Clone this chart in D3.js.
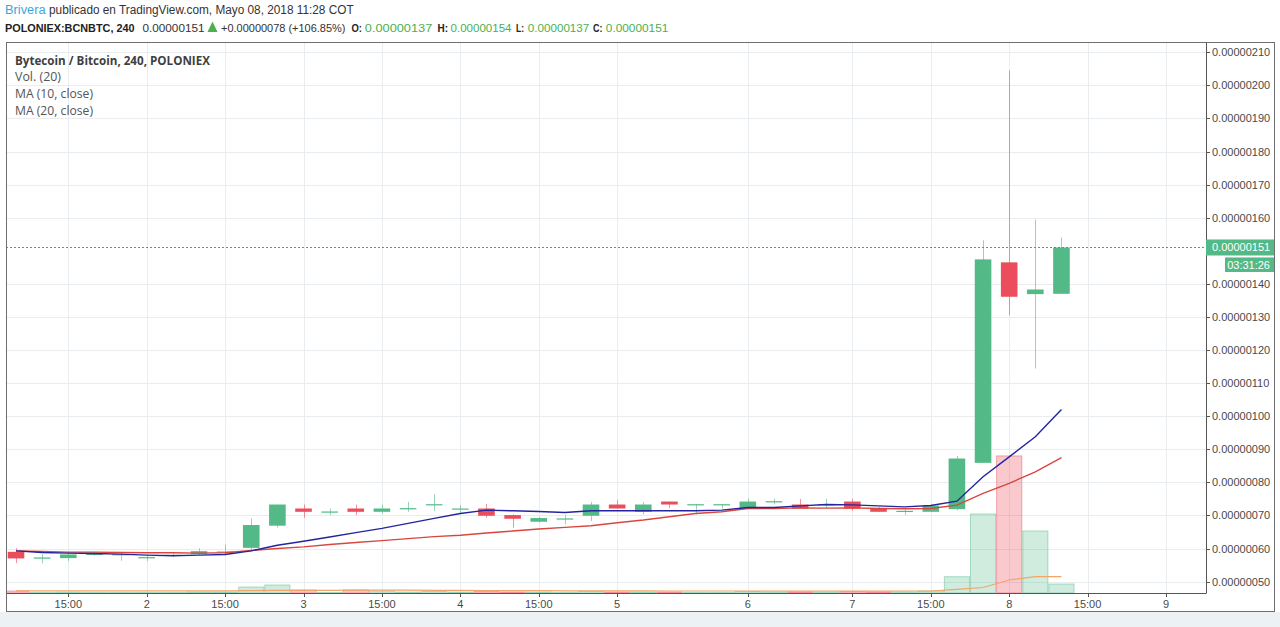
<!DOCTYPE html>
<html><head><meta charset="utf-8">
<script src="https://cdn.jsdelivr.net/npm/d3@7/dist/d3.min.js"></script>
<style>body{margin:0;background:#fff}svg{display:block}</style>
</head><body>
<script>
// ---- data (prices in satoshi = 1e-8 BTC) ----
const open  = [59.0,57.2,57.1,58.2,58.3,57.3,58.0,58.3,59.0,60.2,66.9,72.1,71.1,72.1,71.1,72.1,73.3,72.0,72.1,70.1,68.1,69.0,69.9,73.3,71.1,74.2,73.3,73.3,72.1,74.2,73.3,73.3,74.2,72.1,71.3,71.1,71.9,85.9,146.5,136.9,137.0];
const high  = [60.1,58.3,59.0,58.9,59.0,58.0,58.6,60.1,61.2,69.1,73.3,73.3,72.1,73.3,73.3,74.1,76.4,73.1,73.4,70.3,69.6,70.1,74.1,74.6,74.1,74.2,73.5,73.5,75.1,75.1,75.0,75.0,75.0,72.6,72.1,73.5,88.0,153.2,204.5,159.5,154.0];
const low   = [55.6,55.5,56.2,57.8,56.3,56.2,57.5,58.0,58.0,59.5,66.3,69.3,70.1,70.1,70.6,71.1,71.3,70.6,69.3,66.3,67.8,67.3,68.3,72.1,70.3,72.2,70.3,72.1,72.1,73.3,72.1,72.1,71.4,71.1,70.1,71.1,71.5,85.9,130.5,114.4,137.0];
const close = [57.0,57.3,58.2,58.4,58.3,57.4,58.1,59.2,59.1,67.1,73.3,71.1,71.2,71.1,72.1,72.2,73.4,72.1,69.9,69.0,69.2,69.1,73.3,72.1,73.3,73.3,73.4,73.4,74.2,74.3,72.1,73.4,72.1,71.1,71.4,73.0,87.2,147.4,136.1,138.3,151.0];
const volume = [0.2,0.05,0.08,0.05,0.05,0.05,0.05,0.1,0.1,0.6,0.8,0.3,0.05,0.3,0.2,0.1,0.15,0.1,0.15,0.1,0.1,0.05,0.15,0.1,0.1,0.1,0.05,0.05,0.15,0.05,0.1,0.05,0.15,0.1,0.05,0.2,1.63,7.9,13.7,6.2,0.9];
const volMa = [0.22,0.22,0.22,0.22,0.22,0.22,0.22,0.22,0.22,0.24,0.26,0.27,0.27,0.28,0.28,0.28,0.27,0.26,0.25,0.24,0.23,0.22,0.22,0.21,0.21,0.2,0.2,0.2,0.2,0.19,0.19,0.19,0.19,0.19,0.19,0.2,0.37,0.55,1.3,1.63,1.63];
const ma10 = [59.3,58.8,58.6,58.5,58.3,58.0,57.8,58.0,58.2,59.3,61.0,62.2,63.5,64.8,66.1,67.6,69.1,70.6,71.6,71.4,71.2,70.9,71.4,71.4,71.4,71.4,71.4,71.6,72.4,72.4,72.9,73.3,73.2,72.9,72.6,73.0,74.3,81.7,87.7,93.8,102.0];
const ma20 = [59.3,59.1,58.9,58.9,58.8,58.7,58.7,58.6,58.7,59.4,60.0,60.5,61.2,61.8,62.4,63.0,63.6,64.0,64.7,65.3,65.9,66.4,66.9,67.8,68.6,69.6,70.6,71.1,72.1,72.1,72.3,72.2,72.3,72.1,72.0,72.1,73.1,76.7,79.7,83.2,87.5];
// the 150 tick is hidden under the last-price label in the reference
const priceTicks = [50,60,70,80,90,100,110,120,130,140,160,170,180,190,200,210];
const timeTickIndex = [2,5,8,11,14,17,20,23,28,32,35,38,41,44];
const timeTickLabels = ["15:00","2","15:00","3","15:00","4","15:00","5","6","7","15:00","8","15:00","9"];
const lastPrice = 151;
const countdown = "03:31:26";

// ---- layout ----
const W = 1280, H = 627;
const L = 6, R = 1206, T = 42, B = 593;
const GREEN = "#53b987", RED = "#eb4d5c";
const svg = d3.select("body").append("svg").attr("width", W).attr("height", H);
const fmt = v => (v/1e8).toFixed(8);

const x = d3.scaleLinear().domain([-0.383, 45.53]).range([L, R]);
const y = d3.scaleLinear().domain([50, 210]).range([581.6, 52.3]);
const vy = d3.scaleLinear().domain([0, d3.max(volume) * 4.02]).range([B, T]);
const step = x(1) - x(0);

// bottom strip
svg.append("rect").attr("x",0).attr("y",612).attr("width",W).attr("height",H-612).attr("fill","#eef1f4");

// clip
svg.append("defs").append("clipPath").attr("id","plot").append("rect")
  .attr("x",L).attr("y",T).attr("width",R-L).attr("height",B-T);

// grid
const grid = svg.append("g").attr("stroke","#e9edf0").attr("stroke-width",1);
grid.selectAll("line.h").data(priceTicks).join("line").attr("class","h")
  .attr("x1",L).attr("x2",R).attr("y1",d=>Math.round(y(d))+0.5).attr("y2",d=>Math.round(y(d))+0.5);
grid.selectAll("line.v").data(timeTickIndex).join("line").attr("class","v")
  .attr("y1",T).attr("y2",B).attr("x1",d=>Math.round(x(d))+0.5).attr("x2",d=>Math.round(x(d))+0.5);

const plot = svg.append("g").attr("clip-path","url(#plot)");
const idx = d3.range(open.length);
const up = i => close[i] >= open[i];

// volume bars
plot.append("g").selectAll("rect").data(idx).join("rect")
  .attr("x", i => x(i) - step/2 + 0.5)
  .attr("width", step - 1)
  .attr("y", i => vy(volume[i]))
  .attr("height", i => B - vy(volume[i]))
  .attr("fill", i => up(i) ? "rgba(83,185,135,0.28)" : "rgba(235,77,92,0.30)")
  .attr("stroke", i => up(i) ? "rgba(83,185,135,0.45)" : "rgba(235,77,92,0.45)")
  .attr("stroke-width", 1);

// volume MA
plot.append("path").datum(idx)
  .attr("d", d3.line().x(i=>x(i)).y(i=>vy(volMa[i])))
  .attr("fill","none").attr("stroke","#f2a46a").attr("stroke-width",1.2);

// wicks
plot.append("g").selectAll("line").data(idx).join("line")
  .attr("x1", i => Math.round(x(i))+0.5).attr("x2", i => Math.round(x(i))+0.5)
  .attr("y1", i => y(high[i])).attr("y2", i => y(low[i]))
  .attr("stroke", i => up(i) ? GREEN : RED).attr("stroke-opacity",0.6).attr("stroke-width",1);

// bodies
const bw = 16.6;
plot.append("g").selectAll("rect").data(idx).join("rect")
  .attr("x", i => x(i) - bw/2)
  .attr("width", bw)
  .attr("y", i => y(Math.max(open[i], close[i])))
  .attr("height", i => Math.max(1.2, Math.abs(y(open[i]) - y(close[i]))))
  .attr("fill", i => up(i) ? GREEN : RED);

// MA lines
plot.append("path").datum(idx)
  .attr("d", d3.line().x(i=>x(i)).y(i=>y(ma20[i])))
  .attr("fill","none").attr("stroke","#d9463d").attr("stroke-width",1.4);
plot.append("path").datum(idx)
  .attr("d", d3.line().x(i=>x(i)).y(i=>y(ma10[i])))
  .attr("fill","none").attr("stroke","#24249e").attr("stroke-width",1.4);

// last price dotted line
svg.append("line").attr("x1",L).attr("x2",R)
  .attr("y1",Math.round(y(lastPrice))+0.5).attr("y2",Math.round(y(lastPrice))+0.5)
  .attr("stroke","#3aa87a").attr("stroke-width",1).attr("stroke-dasharray","2,2");

// axes lines
svg.append("line").attr("x1",L).attr("x2",R).attr("y1",B+0.5).attr("y2",B+0.5).attr("stroke","#555");
svg.append("line").attr("x1",R+0.5).attr("x2",R+0.5).attr("y1",T).attr("y2",B+0.5).attr("stroke","#555");
// frame
svg.append("rect").attr("x",L+0.5).attr("y",T+0.5).attr("width",1274-L).attr("height",611-T)
  .attr("fill","none").attr("stroke","#6f6f6f");

// time axis
const tg = svg.append("g");
tg.selectAll("line").data(timeTickIndex).join("line")
  .attr("x1",d=>Math.round(x(d))+0.5).attr("x2",d=>Math.round(x(d))+0.5)
  .attr("y1",B).attr("y2",B+4).attr("stroke","#555");
tg.selectAll("text").data(timeTickIndex).join("text")
  .attr("x",d=>x(d)).attr("y",608).attr("text-anchor","middle")
  .attr("font-family","Liberation Sans, Arial, sans-serif").attr("font-size",11).attr("fill","#4a4a4a")
  .text((d,i)=>timeTickLabels[i]);

// price axis
const pg = svg.append("g");
pg.selectAll("line").data(priceTicks).join("line")
  .attr("x1",R).attr("x2",R+4).attr("y1",d=>Math.round(y(d))+0.5).attr("y2",d=>Math.round(y(d))+0.5).attr("stroke","#555");
pg.selectAll("text").data(priceTicks).join("text")
  .attr("x",1212).attr("y",d=>y(d)+4)
  .attr("font-family","Liberation Sans, Arial, sans-serif").attr("font-size",11).attr("fill","#4a4a4a")
  .text(d=>fmt(d));

// last price label
const ly = y(lastPrice);
svg.append("rect").attr("x",R).attr("y",ly-8).attr("width",1274-R).attr("height",16).attr("fill",GREEN);
svg.append("text").attr("x",1212).attr("y",ly+4).attr("font-family","Liberation Sans, Arial, sans-serif")
  .attr("font-size",11).attr("fill","#fff").text(fmt(lastPrice));
svg.append("rect").attr("x",1225).attr("y",ly+10).attr("width",1274-1225).attr("height",14.5).attr("fill",GREEN);
svg.append("text").attr("x",1270).attr("y",ly+21.5).attr("text-anchor","end").attr("font-family","Liberation Sans, Arial, sans-serif")
  .attr("font-size",11).attr("fill","#fff").text(countdown);

// legend
const legF = "Open Sans, Liberation Sans, sans-serif";
const legend = [
  {t:"Bytecoin / Bitcoin, 240, POLONIEX", y:64.5, w:195, b:true},
  {t:"Vol. (20)", y:81, w:46, b:false},
  {t:"MA (10, close)", y:97.5, w:78, b:false},
  {t:"MA (20, close)", y:114.5, w:78, b:false}
];
svg.append("g").selectAll("text").data(legend).join("text")
  .attr("x",15).attr("y",d=>d.y).attr("font-family",legF).attr("font-size",12.5)
  .attr("font-weight",d=>d.b?"bold":"normal").attr("fill",d=>d.b?"#3f3f3f":"#555")
  .attr("textLength",d=>d.w).attr("lengthAdjust","spacingAndGlyphs").text(d=>d.t);

// header
const hF = "Liberation Sans, Arial, sans-serif";
const header = [
  {t:"Brivera", x:5, w:40.5, y:13.5, c:"#3ca6dc", b:false, s:12.5},
  {t:"publicado en TradingView.com, Mayo 08, 2018 11:28 COT", x:49, w:304.6, y:13.5, c:"#333", b:false, s:12.5},
  {t:"POLONIEX:BCNBTC, 240", x:5, w:129.5, y:32, c:"#222", b:true, s:11.3},
  {t:"0.00000151", x:142.5, w:62, y:32, c:"#333", b:false, s:11.3},
  {t:"+0.00000078 (+106.85%)", x:221, w:124.5, y:32, c:"#333", b:false, s:11.3},
  {t:"O:", x:351.5, w:10.5, y:32, c:"#222", b:true, s:11.3},
  {t:"0.00000137", x:364.8, w:67.5, y:32, c:"#4caf50", b:false, s:11.3},
  {t:"H:", x:437.5, w:10.5, y:32, c:"#222", b:true, s:11.3},
  {t:"0.00000154", x:450.5, w:61, y:32, c:"#4caf50", b:false, s:11.3},
  {t:"L:", x:516, w:8, y:32, c:"#222", b:true, s:11.3},
  {t:"0.00000137", x:527.8, w:61.5, y:32, c:"#4caf50", b:false, s:11.3},
  {t:"C:", x:593, w:9.5, y:32, c:"#222", b:true, s:11.3},
  {t:"0.00000151", x:605.8, w:62.5, y:32, c:"#4caf50", b:false, s:11.3}
];
svg.append("g").selectAll("text").data(header).join("text")
  .attr("x",d=>d.x).attr("y",d=>d.y).attr("font-family",hF).attr("font-size",d=>d.s)
  .attr("font-weight",d=>d.b?"bold":"normal").attr("fill",d=>d.c)
  .attr("textLength",d=>d.w).attr("lengthAdjust","spacingAndGlyphs").text(d=>d.t);
// up arrow
svg.append("path").attr("d","M207.5,32 L212.5,21.5 L217.5,32 Z").attr("fill","#4caf50");
</script>
</body></html>
